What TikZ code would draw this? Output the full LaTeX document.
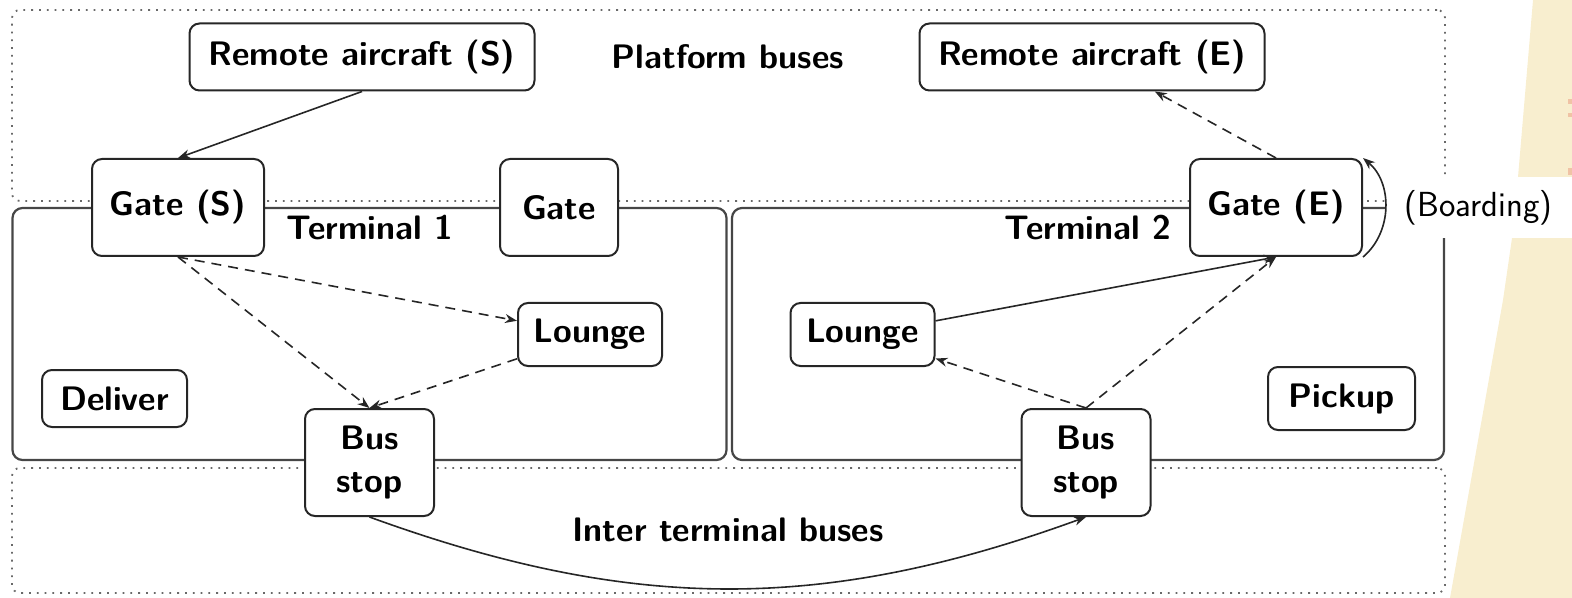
\documentclass[tikz,border=0pt]{standalone}
\usetikzlibrary{arrows.meta}
\definecolor{slidebeige}{RGB}{248,238,207}
\definecolor{marker}{RGB}{240,195,165}
\definecolor{framegray}{RGB}{70,70,70}
\definecolor{dotgray}{RGB}{105,105,105}
\begin{document}
\begin{tikzpicture}[x=0.5pt,y=-0.5pt,
  txt/.style={font=\sffamily\fontsize{17.4}{21.5}\selectfont, inner sep=0pt},
  areatext/.style={font=\sffamily\bfseries\fontsize{17}{21.5}\selectfont, inner sep=0pt},
  box/.style={draw=black!85, line width=1pt, rounded corners=5pt, fill=white,
    inner sep=0pt, align=center, font=\sffamily\bfseries\fontsize{17}{21.5}\selectfont},
  dotframe/.style={draw=dotgray, line width=0.9pt, dash pattern=on 0.9pt off 3pt,
    rounded corners=4pt, inner sep=0pt},
  termframe/.style={draw=framegray, line width=1.1pt, rounded corners=5pt, inner sep=0pt},
  flow/.style={line width=0.8pt, black!85, -{Stealth[length=6pt,width=4.5pt]}},
  flowd/.style={flow, dash pattern=on 5pt off 3.5pt}
]
\useasboundingbox (0,0) rectangle (1572,598);

% slide background on the right
\fill[slidebeige] (1533,0) -- (1518,177) -- (1512,238) -- (1503,300)
  -- (1450,598) -- (1572,598) -- (1572,0) -- cycle;
\fill[marker] (1568,99) rectangle (1572,104);
\fill[marker] (1568,113) rectangle (1572,117);
\fill[marker] (1568,168) rectangle (1572,175);

% areas
\node[dotframe, minimum width=716.5pt, minimum height=95.5pt] (pb) at (728.5,105.5) {};
\node[dotframe, minimum width=716.5pt, minimum height=62.5pt] (ib) at (728.5,530.5) {};
\node[termframe, minimum width=357pt, minimum height=126pt] (t1) at (369.5,334) {};
\node[termframe, minimum width=356pt, minimum height=126pt] (t2) at (1088,334) {};

% area captions
\node[areatext] (pbl) at (728,57) {Platform buses};
\node[areatext] (t1l) at (370,228) {Terminal 1};
\node[areatext] (t2l) at (1088,228) {Terminal 2};
\node[areatext] (ibl) at (728,530) {Inter terminal buses};
\node[txt, fill=white, minimum width=93.5pt, minimum height=30.5pt] (bd) at (1478.5,207.5) {(Boarding)};

% places
\node[box, minimum width=172.5pt, minimum height=33.5pt] (rs) at (362,57) {Remote aircraft (S)};
\node[box, minimum width=172.5pt, minimum height=33.5pt] (re) at (1092,57) {Remote aircraft (E)};
\node[box, minimum width=86pt, minimum height=48.5pt] (gs) at (178,207.5) {Gate (S)};
\node[box, minimum width=59pt, minimum height=48.5pt] (g) at (559,207.5) {Gate};
\node[box, minimum width=86pt, minimum height=48.5pt] (ge) at (1276,207.5) {Gate (E)};
\node[box, minimum width=72pt, minimum height=31.5pt] (l1) at (590,334.5) {Lounge};
\node[box, minimum width=72.5pt, minimum height=28.5pt] (dl) at (114.5,398.5) {Deliver};
\node[box, minimum width=64.5pt, minimum height=53.5pt] (bs1) at (369.5,462.5) {Bus\\stop};
\node[box, minimum width=72pt, minimum height=31.5pt] (l2) at (862.5,334.5) {Lounge};
\node[box, minimum width=73.5pt, minimum height=31.5pt] (pu) at (1341.5,398.5) {Pickup};
\node[box, minimum width=64.5pt, minimum height=53.5pt] (bs2) at (1086,462.5) {Bus\\stop};

% movements
\draw[flow] (rs.south) -- (gs.north);
\draw[flowd] (ge.north) -- (re);
\draw[flowd] (gs.south) -- (l1);
\draw[flowd] (gs.south) -- (bs1.north);
\draw[flowd] (l1) -- (bs1.north);
\draw[flow] (l2) -- (ge.south);
\draw[flowd] (bs2.north) -- (l2);
\draw[flowd] (bs2.north) -- (ge.south);
\draw[flow] (bs1.south) to[bend right=20] (bs2.south);
\draw[flow] (ge.south east) to[bend right=50] (ge.north east);
\end{tikzpicture}
\end{document}
